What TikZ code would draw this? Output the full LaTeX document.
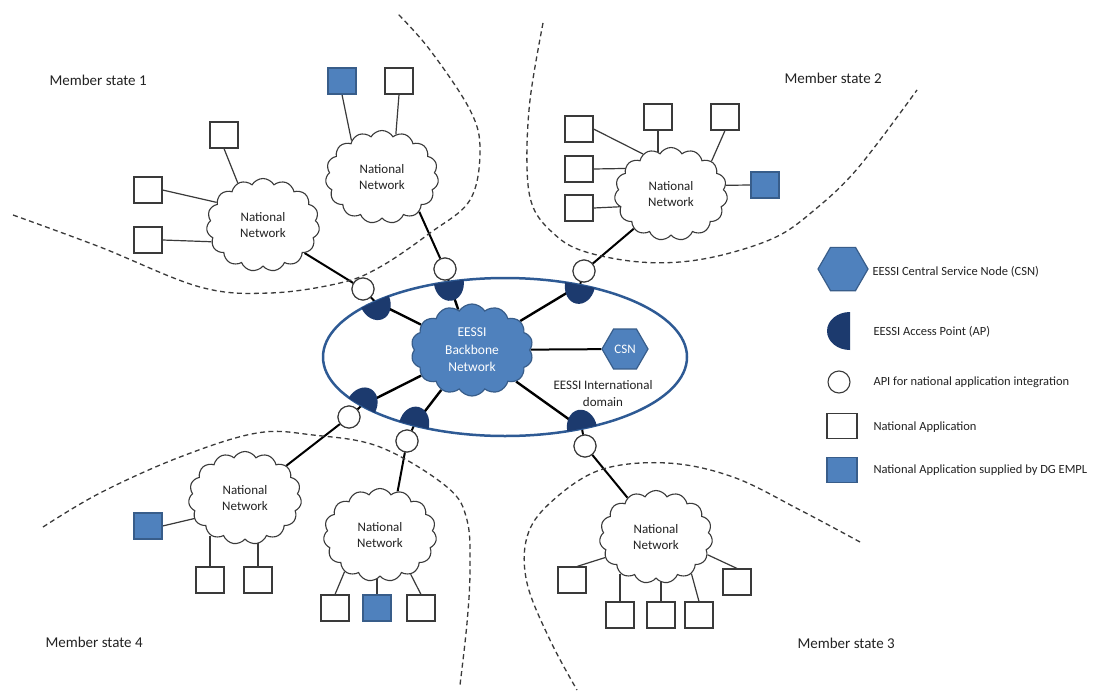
\documentclass[tikz,border=0pt]{standalone}
\usepackage{fontspec}
\setmainfont{Carlito}
\usetikzlibrary{shapes.symbols,shapes.geometric}
\definecolor{bfill}{HTML}{4F81BD}
\definecolor{bedge}{HTML}{385D8A}
\definecolor{apcol}{HTML}{1C3A6E}
\definecolor{ellcol}{HTML}{2E5A94}
\definecolor{gline}{HTML}{3A3A3A}
\definecolor{txt}{HTML}{222222}
\pgfdeclarelayer{bg}
\pgfsetlayers{bg,main}
\newcommand\apD[2]{\begin{scope}[shift={(#1)}, rotate=#2]\fill[apcol] (0,-15) arc[start angle=-90, end angle=90, x radius=19, y radius=15] -- cycle;\end{scope}}
\begin{document}
\begin{tikzpicture}[x=1pt,y=-1pt,
  app/.style={draw=gline, line width=1.1pt, fill=white, minimum width=28pt, minimum height=26pt, inner sep=0pt},
  bapp/.style={app, fill=bfill, draw=bedge},
  natnet/.style={cloud, cloud puffs=15, cloud puff arc=120, aspect=1.2, draw=gline, line width=1.1pt, fill=white, minimum width=113pt, minimum height=93pt, inner sep=0pt, align=center, font=\fontsize{13}{16}\selectfont, text=txt},
  api/.style={circle, draw=gline, line width=1.1pt, fill=white, minimum size=22pt, inner sep=0pt},
  applink/.style={draw=gline, line width=1.2pt},
  netlink/.style={draw=black, line width=2pt},
  boundary/.style={draw=gline, line width=1.3pt, dash pattern=on 5pt off 3.5pt},
  msl/.style={anchor=west, font=\fontsize{15}{17}\selectfont, text=txt},
  leg/.style={anchor=west, font=\fontsize{12.5}{15}\selectfont, text=txt},
  hex/.style={regular polygon, regular polygon sides=6, inner sep=0pt, fill=bfill, draw=bedge, line width=1.2pt, text=white, font=\fontsize{13}{15}\selectfont}
]
\begin{pgfonlayer}{bg}
\fill[white] (0,0) rectangle (1110,693);
\end{pgfonlayer}
\useasboundingbox (0,0) rectangle (1110,693);

% member state boundaries
\draw[boundary] plot[smooth, tension=0.6] coordinates {(13,215) (100,247) (200,287) (270,293) (340,283) (380,267) (430,233) (470,200) (480,150) (470,110) (430,50) (397,13)};
\draw[boundary] plot[smooth, tension=0.6] coordinates {(543,23) (530,100) (527,167) (533,207) (553,233) (580,250) (630,261) (680,262) (730,253) (780,235) (818,207) (850,177) (880,140) (917,90)};
\draw[boundary] plot[smooth, tension=0.6] coordinates {(860,542) (800,510) (733,477) (667,463) (600,470) (550,503) (527,537) (527,583) (550,640) (577,690)};
\draw[boundary] plot[smooth, tension=0.6] coordinates {(43,527) (100,493) (180,457) (257,433) (313,435) (380,447) (447,487) (467,520) (470,570) (467,623) (460,685)};

% labels
\node[msl] (ms1) at (46,80) {Member state 1};
\node[msl] (ms2) at (781,78) {Member state 2};
\node[msl] (ms3) at (794,643) {Member state 3};
\node[msl] (ms4) at (42,642) {Member state 4};

% international domain
\draw[ellcol, line width=2.5pt] (505,357) ellipse [x radius=182, y radius=79];
\node[cloud, cloud puffs=14, cloud puff arc=115, aspect=1.35, fill=bfill, draw=bedge, line width=1.2pt, minimum width=122pt, minimum height=92pt, inner sep=0pt, align=center, text=white, font=\fontsize{13.5}{17.5}\selectfont] (bb) at (472,350) {EESSI\\Backbone\\Network};
\node[hex, minimum size=46pt] (csn) at (625,349) {CSN};
\node[align=center, font=\fontsize{13}{17}\selectfont, text=txt] (intl) at (603,394) {EESSI International\\domain};

% access points (coordinates on the ellipse)
\coordinate (ap1) at (375.0,301.7);
\coordinate (ap2) at (448.8,281.9);
\coordinate (ap3) at (580.0,285.0);
\coordinate (ap4) at (361.6,405.6);
\coordinate (ap5) at (414.0,425.4);
\coordinate (ap6) at (582.0,428.6);

% API circles
\node[api] (api1) at (363,289) {};
\node[api] (api2) at (445,269) {};
\node[api] (api3) at (584,271) {};
\node[api] (api4) at (349,417) {};
\node[api] (api5) at (407,441) {};
\node[api] (api6) at (585,446) {};

% national networks
\node[natnet] (nc1) at (263,225) {National\\Network};
\node[natnet] (nc2) at (382,177) {National\\Network};
\node[natnet] (nc3) at (671,194) {National\\Network};
\node[natnet] (nc4) at (245,498) {National\\Network};
\node[natnet] (nc5) at (380,535) {National\\Network};
\node[natnet] (nc6) at (656,537) {National\\Network};

% national applications
\node[app]  (s1a) at (224,135) {};
\node[app]  (s1b) at (148,190) {};
\node[app]  (s1c) at (148,240) {};
\node[bapp] (s1d) at (342,81) {};
\node[app]  (s1e) at (399,81) {};

\node[app]  (s2a) at (579,129) {};
\node[app]  (s2b) at (579,169) {};
\node[app]  (s2c) at (579,208) {};
\node[app]  (s2d) at (658,117) {};
\node[app]  (s2e) at (725,117) {};
\node[bapp] (s2f) at (765,185) {};

\node[bapp] (s4a) at (148,526) {};
\node[app]  (s4b) at (210,580) {};
\node[app]  (s4c) at (258,580) {};
\node[app]  (s4d) at (335,608) {};
\node[bapp] (s4e) at (377,608) {};
\node[app]  (s4f) at (421,608) {};

\node[app]  (s3a) at (572,580) {};
\node[app]  (s3b) at (620,615) {};
\node[app]  (s3c) at (661,615) {};
\node[app]  (s3d) at (699,615) {};
\node[app]  (s3e) at (737,582) {};

% connectors (behind the nodes)
\begin{pgfonlayer}{bg}
  \draw[netlink, line width=2.4pt] (ap1) -- (bb);
  \draw[netlink, line width=2.4pt] (ap2) -- (bb);
  \draw[netlink, line width=2.4pt] (ap3) -- (bb);
  \draw[netlink, line width=2.4pt] (ap4) -- (bb);
  \draw[netlink, line width=2.4pt] (ap5) -- (bb);
  \draw[netlink, line width=2.4pt] (ap6) -- (bb);
  \draw[netlink] (bb) -- (csn);
  \draw[netlink] (ap1) -- (api1) -- (nc1.-34);
  \draw[netlink] (ap2) -- (api2) -- (nc2.-43);
  \draw[netlink] (ap3) -- (api3) -- (nc3.223);
  \draw[netlink] (ap4) -- (api4) -- (nc4.38);
  \draw[netlink] (ap5) -- (api5) -- (nc5.68);
  \draw[netlink] (ap6) -- (api6) -- (nc6.126);

  \draw[applink] (s1a.south) -- (nc1.121);
  \draw[applink] (s1b.east) -- (nc1.154);
  \draw[applink] (s1c.east) -- (nc1.198);
  \draw[applink] (s1d.south) -- (nc2.130);
  \draw[applink] (s1e.south) -- (nc2.72);

  \draw[applink] (s2a.east) -- (nc3.125);
  \draw[applink] (s2b.east) -- (nc3.151);
  \draw[applink] (s2c.east) -- (nc3.194);
  \draw[applink] (s2d.south) -- (s2d.south |- nc3.107);
  \draw[applink] (s2e.south) -- (nc3.39);
  \draw[applink] (s2f.west) -- (nc3.9);

  \draw[applink] (s4a.east) -- (nc4.202);
  \draw[applink] (s4b.north) -- (s4b.north |- nc4.229);
  \draw[applink] (s4c.north) -- (s4c.north |- nc4.-72);
  \draw[applink] (s4d.north) -- (nc5.226);
  \draw[applink] (s4e.north) -- (s4e.north |- nc5.south);
  \draw[applink] (s4f.north) -- (nc5.-52);

  \draw[applink] ([xshift=5pt]s3a.north) -- (nc6.202);
  \draw[applink] (s3b.north) -- (s3b.north |- nc6.226);
  \draw[applink] (s3c.north) -- (s3c.north |- nc6.south);
  \draw[applink] (s3d.north) -- (nc6.-46);
  \draw[applink] (s3e.north) -- (nc6.-19);
\end{pgfonlayer}

% access point half-discs (bulging inward)
\apD{ap1}{-66}
\apD{ap2}{-82}
\apD{ap3}{-101}
\apD{ap4}{61}
\apD{ap5}{76}
\apD{ap6}{101}
% API circles again on top of the half-discs
\node[api] (api1b) at (api1) {};
\node[api] (api2b) at (api2) {};
\node[api] (api3b) at (api3) {};
\node[api] (api4b) at (api4) {};
\node[api] (api5b) at (api5) {};
\node[api] (api6b) at (api6) {};

% legend
\node[hex, minimum size=50pt] (lhex) at (843,269) {};
\node[leg] (lt1) at (869,272) {EESSI Central Service Node (CSN)};
\fill[apcol] (850,312) arc[start angle=270, end angle=90, x radius=23, y radius=19] -- cycle;
\node[leg] (lt2) at (870,332) {EESSI Access Point (AP)};
\node[api] (lapi) at (839,382) {};
\node[leg] (lt3) at (870,382) {API for national application integration};
\node[app, minimum width=30pt, minimum height=25pt] (lsq) at (842,426) {};
\node[leg] (lt4) at (870,427) {National Application};
\node[bapp, minimum width=30pt, minimum height=25pt] (lbsq) at (842,470) {};
\node[leg] (lt5) at (870,470) {National Application supplied by DG EMPL};
\end{tikzpicture}
\end{document}
